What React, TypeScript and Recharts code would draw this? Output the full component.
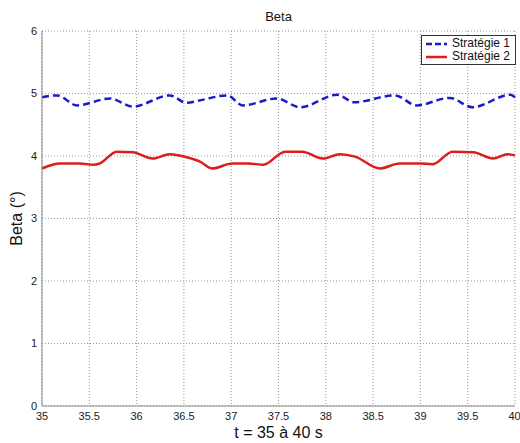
import { LineChart, Line, XAxis, YAxis, CartesianGrid, Legend } from "recharts"

const xTicks = [35, 35.5, 36, 36.5, 37, 37.5, 38, 38.5, 39, 39.5, 40]
const yTicks = [0, 1, 2, 3, 4, 5, 6]

const s1Time = [35.0, 35.16, 35.37, 35.72, 35.96, 36.35, 36.53, 36.67, 36.96, 37.12, 37.48, 37.73, 38.12, 38.3, 38.73, 38.96, 39.31, 39.55, 39.95, 40.0]
const s1Beta = [4.94, 4.97, 4.81, 4.92, 4.79, 4.97, 4.85, 4.89, 4.97, 4.81, 4.92, 4.78, 4.98, 4.86, 4.97, 4.81, 4.93, 4.78, 4.98, 4.94]

const s2Time = [35.0, 35.19, 35.4, 35.54, 35.61, 35.79, 35.96, 36.17, 36.35, 36.53, 36.67, 36.8, 37.01, 37.18, 37.34, 37.57, 37.75, 37.97, 38.15, 38.31, 38.57, 38.78, 38.99, 39.13, 39.34, 39.56, 39.77, 39.92, 40.0]
const s2Beta = [3.8, 3.88, 3.88, 3.86, 3.88, 4.07, 4.06, 3.96, 4.03, 3.98, 3.91, 3.8, 3.88, 3.88, 3.86, 4.07, 4.07, 3.96, 4.03, 3.99, 3.8, 3.88, 3.88, 3.87, 4.07, 4.06, 3.96, 4.03, 4.01]

const series1 = s1Time.map((t, i) => ({ t, beta: s1Beta[i] }))
const series2 = s2Time.map((t, i) => ({ t, beta: s2Beta[i] }))

const font = "'Liberation Sans', Arial, sans-serif"
const blue = "#1a1acc"
const red = "#dd1c1c"

const renderLegend = () => (
  <div
    style={{
      border: "1px solid #333",
      background: "#fff",
      padding: "1px 5px 1px 3px",
      fontFamily: font,
      fontSize: 12,
      color: "#111",
      lineHeight: "13px",
    }}
  >
    {[
      { name: "Stratégie 1", color: blue, dash: "6 3" },
      { name: "Stratégie 2", color: red, dash: undefined },
    ].map((e) => (
      <div key={e.name} style={{ display: "flex", alignItems: "center", height: 13 }}>
        <svg width={24} height={6} style={{ marginRight: 3 }}>
          <line x1={1} y1={3} x2={22} y2={3} stroke={e.color} strokeWidth={2.5} strokeDasharray={e.dash} />
        </svg>
        <span style={{ whiteSpace: "nowrap" }}>{e.name}</span>
      </div>
    ))}
  </div>
)

export default function App() {
  return (
    <div style={{ position: "absolute", left: 0, top: 0, width: 520, height: 443, background: "#fff", fontFamily: font }}>
      <div style={{ position: "absolute", top: 9, left: 42, width: 473, textAlign: "center", fontSize: 13, color: "#111" }}>
        Beta
      </div>
      <LineChart width={520} height={443} margin={{ top: 31, right: 5, bottom: 0, left: 0 }}>
        <CartesianGrid stroke="#999" strokeDasharray="1 2" />
        <XAxis
          dataKey="t"
          type="number"
          domain={[35, 40]}
          ticks={xTicks}
          allowDuplicatedCategory={false}
          height={37}
          stroke="#888"
          tickLine={false}
          tickSize={4}
          tick={{ fill: "#222", fontSize: 11, fontFamily: font }}
          label={{ value: "t = 35 à 40 s", position: "insideBottom", offset: 5, fontSize: 16, fill: "#111", fontFamily: font }}
        />
        <XAxis xAxisId="top" orientation="top" type="number" domain={[35, 40]} height={0} tick={false} tickLine={false} stroke="#888" />
        <YAxis
          type="number"
          domain={[0, 6]}
          ticks={yTicks}
          width={42}
          stroke="#888"
          tickLine={false}
          tickSize={3}
          tick={{ fill: "#222", fontSize: 11, fontFamily: font }}
          label={{ value: "Beta (°)", angle: -90, position: "insideLeft", offset: 16, fontSize: 16, fill: "#111", fontFamily: font, style: { textAnchor: "middle" } }}
        />
        <YAxis yAxisId="right" orientation="right" type="number" domain={[0, 6]} width={0} tick={false} tickLine={false} stroke="#888" />
        <Legend
          verticalAlign="middle"
          align="center"
          layout="vertical"
          content={renderLegend}
          wrapperStyle={{ left: 421, top: 35, width: "auto", height: "auto" }}
        />
        <Line
          data={series1}
          dataKey="beta"
          name="Stratégie 1"
          type="monotone"
          stroke={blue}
          strokeWidth={2.5}
          strokeDasharray="7 4"
          dot={false}
          isAnimationActive={false}
        />
        <Line
          data={series2}
          dataKey="beta"
          name="Stratégie 2"
          type="monotone"
          stroke={red}
          strokeWidth={2.5}
          dot={false}
          isAnimationActive={false}
        />
      </LineChart>
    </div>
  )
}
